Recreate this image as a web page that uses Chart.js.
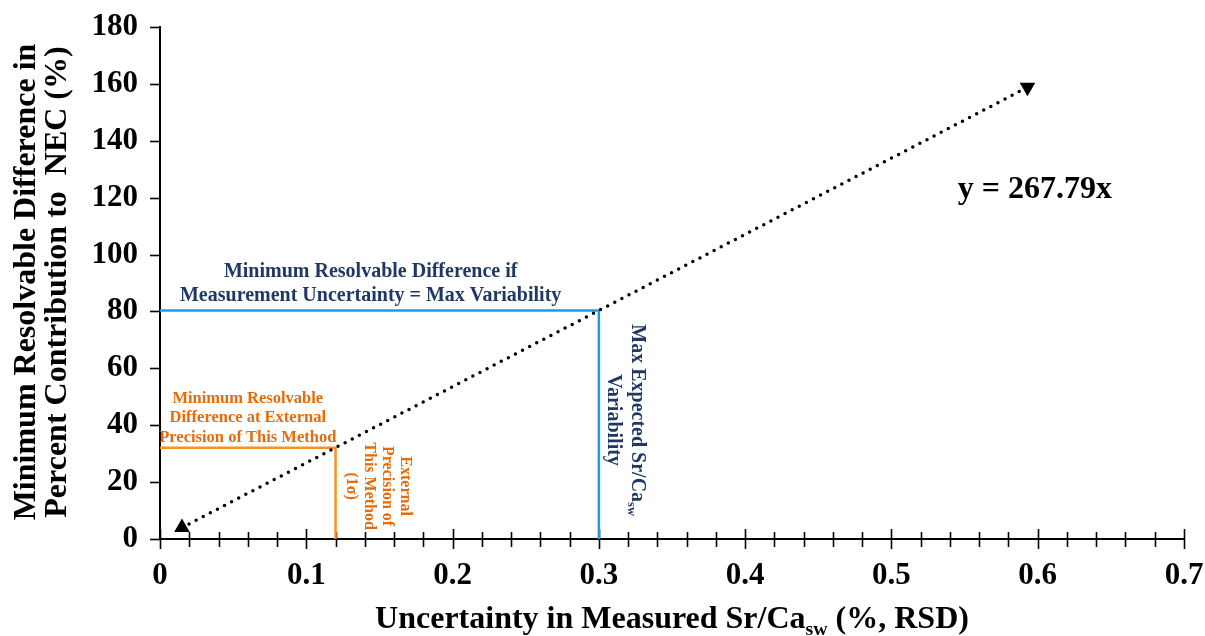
<!DOCTYPE html>
<html>
<head>
<meta charset="utf-8">
<script src="https://cdn.jsdelivr.net/npm/chart.js@4/dist/chart.umd.min.js"></script>
<style>
  html, body { margin: 0; padding: 0; background: #ffffff; }
  canvas { display: block; }
</style>
</head>
<body>
<canvas id="chart" width="1205" height="636"></canvas>
<script>
// Trend line y = 267.79x, drawn between its two arrowheads
const trendX = [0.015, 0.593];
const trendY = [4.0, 158.8];

// Max expected Sr/Ca_sw variability guide lines
const maxVarX = [0, 0.3, 0.3];
const maxVarY = [80.3, 80.3, 0];

// External precision of this method guide lines
const precX = [0, 0.12, 0.12];
const precY = [32.1, 32.1, 0];

// Axis tick labels
const xTicks = [0, 0.1, 0.2, 0.3, 0.4, 0.5, 0.6, 0.7];
const yTicks = [0, 20, 40, 60, 80, 100, 120, 140, 160, 180];
const xMinorStep = 0.02;

// Texts
const xTitle = 'Uncertainty in Measured Sr/Ca_{sw} (%, RSD)';
const yTitle = ['Minimum Resolvable Difference in', 'Percent Contribution to  NEC (%)'];
const equation = 'y = 267.79x';
const maxVarNote = ['Minimum Resolvable Difference if', 'Measurement Uncertainty = Max Variability'];
const maxVarAxisNote = ['Max Expected Sr/Ca_{sw}', 'Variability'];
const precNote = ['Minimum Resolvable', 'Difference at External', 'Precision of This Method'];
const precAxisNote = ['External', 'Precision of', 'This Method', '(1\u03C3)'];

const NAVY = '#1F3864';
const BLUE = '#1C9BE6';
const ORANGE_LINE = '#F7941E';
const ORANGE_TEXT = '#E46C0A';
const SERIF = '"Liberation Serif", "Times New Roman", serif';

const toPoints = (xs, ys) => xs.map((x, i) => ({ x, y: ys[i] }));

function font(size) { return `bold ${size}px ${SERIF}`; }

// Split "abc_{sub}def" into plain and subscript segments
function parseRich(str) {
  const segs = [];
  const re = /_\{([^}]*)\}/g;
  let last = 0, m;
  while ((m = re.exec(str)) !== null) {
    if (m.index > last) segs.push({ t: str.slice(last, m.index), sub: false });
    segs.push({ t: m[1], sub: true });
    last = re.lastIndex;
  }
  if (last < str.length) segs.push({ t: str.slice(last), sub: false });
  return segs;
}

function drawRichLine(ctx, str, size, cx, cy) {
  const segs = parseRich(str);
  const subSize = size * 0.62;
  let w = 0;
  segs.forEach(s => { ctx.font = font(s.sub ? subSize : size); w += ctx.measureText(s.t).width; });
  let x = cx - w / 2;
  ctx.textAlign = 'left';
  ctx.textBaseline = 'middle';
  segs.forEach(s => {
    ctx.font = font(s.sub ? subSize : size);
    ctx.fillText(s.t, x, cy + (s.sub ? size * 0.32 : 0));
    x += ctx.measureText(s.t).width;
  });
}

function drawBlock(ctx, lines, size, lineH, cx, cy, angle, color) {
  ctx.save();
  ctx.translate(cx, cy);
  ctx.rotate(angle);
  ctx.fillStyle = color;
  const n = lines.length;
  lines.forEach((ln, i) => drawRichLine(ctx, ln, size, 0, (i - (n - 1) / 2) * lineH));
  ctx.restore();
}

// Tick marks: x ticks cross the axis and carry minor ticks; drawn under the data lines
const tickMarks = {
  id: 'tickMarks',
  beforeDatasetsDraw(chart) {
    const { ctx, chartArea, scales } = chart;
    const xs = scales.x, ys = scales.y;
    ctx.save();
    ctx.strokeStyle = '#000';
    ctx.lineWidth = 1.6;
    const nMinor = Math.round((xs.max - xs.min) / xMinorStep);
    for (let i = 0; i <= nMinor; i++) {
      const v = xs.min + i * xMinorStep;
      const major = i % 5 === 0;
      const px = Math.round(xs.getPixelForValue(v)) + 0.5;
      ctx.beginPath();
      ctx.moveTo(px, chartArea.bottom - (major ? 10 : 7));
      ctx.lineTo(px, chartArea.bottom + (major ? 10 : 8));
      ctx.stroke();
    }
    yTicks.forEach(v => {
      const py = Math.round(ys.getPixelForValue(v)) + 0.5;
      ctx.beginPath();
      ctx.moveTo(chartArea.left - 10, py);
      ctx.lineTo(chartArea.left, py);
      ctx.stroke();
    });
    ctx.restore();
  }
};

// Axis titles, equation and guide-line notes
const annotations = {
  id: 'annotations',
  afterDraw(chart) {
    const { ctx, chartArea, scales } = chart;
    const X = v => scales.x.getPixelForValue(v);
    const Y = v => scales.y.getPixelForValue(v);

    drawBlock(ctx, [xTitle], 32, 0, (chartArea.left + chartArea.right) / 2, 620, 0, '#000');
    drawBlock(ctx, yTitle, 32, 31, 42, (chartArea.top + chartArea.bottom) / 2 - 1, -Math.PI / 2, '#000');

    drawBlock(ctx, [equation], 32, 0, X(0.598), Y(122.7), 0, '#000');

    drawBlock(ctx, maxVarNote, 20, 24, X(0.144), Y(89.7), 0, NAVY);
    drawBlock(ctx, maxVarAxisNote, 20, 24, X(0.318), Y(41.8), Math.PI / 2, NAVY);
    drawBlock(ctx, precNote, 16.5, 19.5, X(0.060), Y(42.5), 0, ORANGE_TEXT);
    drawBlock(ctx, precAxisNote, 16, 18, X(0.149), Y(18.6), Math.PI / 2, ORANGE_TEXT);
  }
};

const tickFont = { family: SERIF, weight: 'bold', size: 31 };

new Chart(document.getElementById('chart').getContext('2d'), {
  type: 'scatter',
  data: {
    datasets: [
      {
        label: 'y = 267.79x',
        data: toPoints(trendX, trendY),
        showLine: true,
        borderColor: '#000',
        borderWidth: 3.5,
        borderDash: [0, 8],
        borderCapStyle: 'round',
        pointStyle: 'triangle',
        pointRadius: 9,
        pointRotation: [0, 180],
        pointBackgroundColor: '#000',
        pointBorderColor: '#000',
        pointBorderWidth: 0,
        clip: false
      },
      {
        label: 'Max variability',
        data: toPoints(maxVarX, maxVarY),
        showLine: true,
        borderColor: BLUE,
        borderWidth: 2.5,
        pointRadius: 0,
        clip: false
      },
      {
        label: 'External precision',
        data: toPoints(precX, precY),
        showLine: true,
        borderColor: ORANGE_LINE,
        borderWidth: 2.5,
        pointRadius: 0,
        clip: false
      }
    ]
  },
  options: {
    responsive: false,
    animation: false,
    devicePixelRatio: 1,
    layout: { padding: { left: 0, right: 21, top: 27, bottom: 0 } },
    plugins: { legend: { display: false }, tooltip: { enabled: false } },
    scales: {
      x: {
        type: 'linear',
        min: 0,
        max: 0.7,
        afterBuildTicks: s => { s.ticks = xTicks.map(v => ({ value: v })); },
        afterFit: s => { s.height = 97; s.paddingLeft = 0; s.paddingRight = 0; },
        grid: { display: true, drawOnChartArea: false, drawTicks: true, tickLength: 10, color: 'rgba(0,0,0,0)' },
        border: { display: true, color: '#000', width: 2 },
        ticks: {
          color: '#000',
          font: tickFont,
          padding: 8,
          maxRotation: 0,
          autoSkip: false,
          callback: v => (v === 0 ? '0' : v.toFixed(1))
        }
      },
      y: {
        type: 'linear',
        min: 0,
        max: 180,
        afterBuildTicks: s => { s.ticks = yTicks.map(v => ({ value: v })); },
        afterFit: s => { s.width = 160; s.paddingTop = 0; s.paddingBottom = 0; },
        grid: { display: true, drawOnChartArea: false, drawTicks: true, tickLength: 10, color: 'rgba(0,0,0,0)' },
        border: { display: true, color: '#000', width: 2 },
        ticks: {
          color: '#000',
          font: tickFont,
          padding: 12,
          autoSkip: false,
          callback: v => String(v)
        }
      }
    }
  },
  plugins: [tickMarks, annotations]
});
</script>
</body>
</html>
